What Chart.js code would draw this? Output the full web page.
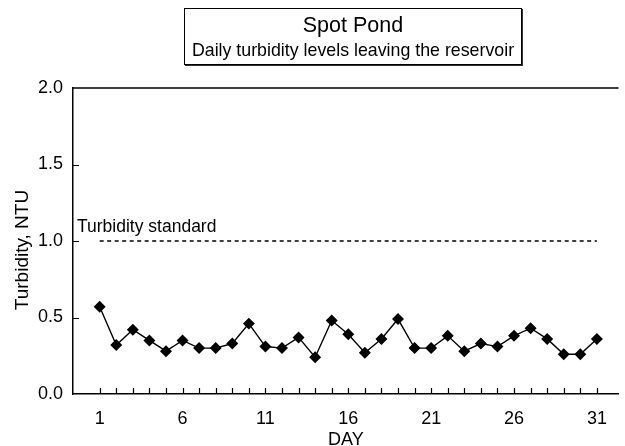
<!DOCTYPE html>
<html lang="en">
<head>
  <meta charset="UTF-8">
  <title>Spot Pond</title>
  <script src="https://cdn.jsdelivr.net/npm/chart.js"></script>
  <style>
    body { margin: 0; padding: 0; background: #fff; font-family: "Liberation Sans", Arial, sans-serif; }
    .wrap { position: relative; width: 625px; height: 446px; }
    .titlebox { position: absolute; left: 184px; top: 8px; width: 336px; height: 55px; border: 1.5px solid #000;
      box-shadow: 1px 1px 0 #333; background: #fff; text-align: center; color: #000; }
    .titlebox .t1 { font-size: 21.5px; margin-top: 4px; line-height: 24px; }
    .titlebox .t2 { font-size: 17.8px; margin-top: 3px; line-height: 21px; }
  </style>
</head>
<body>
  <div class="wrap">
    <canvas id="turbChart" width="625" height="446"></canvas>
    <div class="titlebox">
      <div class="t1">Spot Pond</div>
      <div class="t2">Daily turbidity levels leaving the reservoir</div>
    </div>
  </div>
  <script>
    // days of the month and daily turbidity (NTU)
    const days = [1,2,3,4,5,6,7,8,9,10,11,12,13,14,15,16,17,18,19,20,21,22,23,24,25,26,27,28,29,30,31];
    const turbidity = [0.57,0.32,0.42,0.35,0.28,0.35,0.30,0.30,0.33,0.46,0.31,0.30,0.37,0.24,0.48,
                       0.39,0.27,0.36,0.49,0.30,0.30,0.38,0.28,0.33,0.31,0.38,0.43,0.36,0.26,0.26,0.36];
    const standardDays = [1, 31];
    const standardLevel = 1.0;
    const yTicks = [0, 0.5, 1.0, 1.5, 2.0];
    const xLabelDays = [1, 6, 11, 16, 21, 26, 31];

    const fam = '"Liberation Sans", Arial, sans-serif';
    const font = { family: fam, size: 18 };

    const framePlugin = {
      id: 'frame',
      afterDraw(chart) {
        const c = chart.ctx, a = chart.chartArea;
        const xs = chart.scales.x, ys = chart.scales.y;
        c.save();
        c.strokeStyle = '#000';
        c.lineWidth = 1.5;
        // top edge of frame
        c.beginPath();
        c.moveTo(a.left, a.top);
        c.lineTo(a.right, a.top);
        c.stroke();
        // inward tick marks
        c.lineWidth = 1.2;
        c.beginPath();
        days.forEach(d => {
          const px = Math.round(xs.getPixelForValue(d)) + 0.5;
          c.moveTo(px, a.bottom);
          c.lineTo(px, a.bottom - 6);
        });
        yTicks.slice(1, -1).forEach(v => {
          const py = Math.round(ys.getPixelForValue(v)) + 0.5;
          c.moveTo(a.left, py);
          c.lineTo(a.left + 6, py);
        });
        c.stroke();
        c.fillStyle = '#000';
        // standard label
        c.font = '17.5px ' + fam;
        c.textBaseline = 'alphabetic';
        c.textAlign = 'left';
        c.fillText('Turbidity standard', a.left + 4, ys.getPixelForValue(standardLevel) - 9);
        // y axis title
        c.font = '19px ' + fam;
        c.translate(23, (a.top + a.bottom) / 2 + 9);
        c.rotate(-Math.PI / 2);
        c.textAlign = 'center';
        c.textBaseline = 'middle';
        c.fillText('Turbidity, NTU', 0, 0);
        c.restore();
      }
    };

    const ctx = document.getElementById('turbChart').getContext('2d');
    new Chart(ctx, {
      type: 'line',
      data: {
        datasets: [{
          label: 'Turbidity',
          data: days.map((d, i) => ({ x: d, y: turbidity[i] })),
          borderColor: '#000',
          backgroundColor: '#000',
          borderWidth: 1.4,
          pointStyle: 'rectRot',
          pointRadius: 5,
          tension: 0
        }, {
          label: 'Turbidity standard',
          data: standardDays.map(d => ({ x: d, y: standardLevel })),
          borderColor: '#000',
          borderWidth: 1.3,
          borderDash: [4, 3.5],
          pointRadius: 0
        }]
      },
      options: {
        responsive: false,
        animation: false,
        layout: { padding: { top: 88, right: 0, bottom: 0, left: 0 } },
        plugins: { legend: { display: false }, tooltip: { enabled: false }, title: { display: false } },
        scales: {
          x: {
            type: 'linear',
            min: -0.61,
            max: 32.31,
            afterBuildTicks: s => { s.ticks = days.map(d => ({ value: d })); },
            afterFit: s => { s.height = 52; },
            grid: { display: false, drawTicks: false },
            border: { color: '#000', width: 1.5 },
            ticks: {
              color: '#000', font: font, padding: 14, autoSkip: false, maxRotation: 0,
              callback: v => xLabelDays.includes(v) ? String(v) : ''
            },
            title: { display: true, text: 'DAY', color: '#000', font: font, padding: { top: 0, bottom: -5 } }
          },
          y: {
            min: 0,
            max: 2.0,
            afterBuildTicks: s => { s.ticks = yTicks.map(v => ({ value: v })); },
            afterFit: s => { s.width = 73; },
            grid: { display: false, drawTicks: false },
            border: { color: '#000', width: 1.5 },
            ticks: { color: '#000', font: font, padding: 10, callback: v => v.toFixed(1) }
          }
        }
      },
      plugins: [framePlugin]
    });
  </script>
</body>
</html>
